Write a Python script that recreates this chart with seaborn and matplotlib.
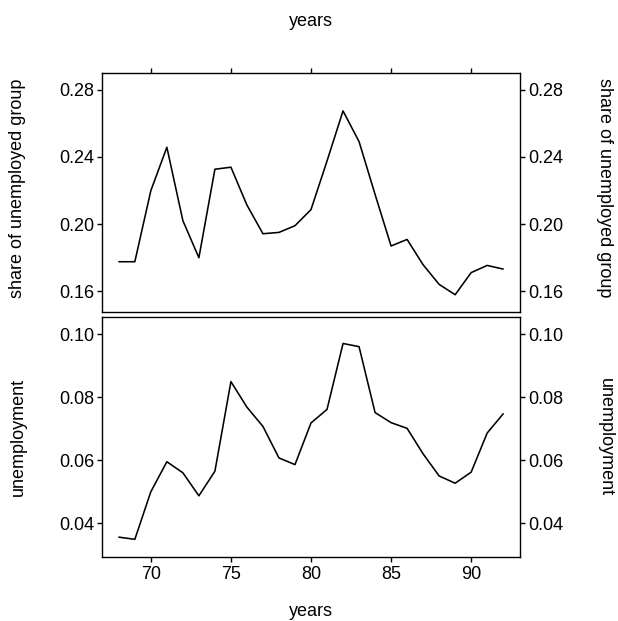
import matplotlib
matplotlib.use("Agg")
import matplotlib.pyplot as plt
import seaborn as sns
import pandas as pd

years = list(range(68, 93))
share_unemployed = [0.1775, 0.1775, 0.2199, 0.2458, 0.2020, 0.1799, 0.2327, 0.2339,
                    0.2113, 0.1942, 0.1950, 0.1990, 0.2086, 0.2376, 0.2675, 0.2492,
                    0.2177, 0.1869, 0.1908, 0.1757, 0.1640, 0.1578, 0.1710, 0.1753,
                    0.1731]
unemployment = [0.0356, 0.0349, 0.0500, 0.0595, 0.0560, 0.0487, 0.0565, 0.0849,
                0.0768, 0.0707, 0.0607, 0.0586, 0.0718, 0.0761, 0.0970, 0.0960,
                0.0751, 0.0719, 0.0701, 0.0620, 0.0550, 0.0527, 0.0562, 0.0686,
                0.0747]
x_ticks = [70, 75, 80, 85, 90]
share_ticks = [0.16, 0.20, 0.24, 0.28]
share_labels = ["0.16", "0.20", "0.24", "0.28"]
unemp_ticks = [0.04, 0.06, 0.08, 0.10]
unemp_labels = ["0.04", "0.06", "0.08", "0.10"]

df = pd.DataFrame({"years": years, "share": share_unemployed, "unemp": unemployment})

sns.set_theme(style="white")
plt.rcParams["font.family"] = ["Liberation Sans", "DejaVu Sans"]
fs = 13

fig = plt.figure(figsize=(6.18, 6.21), dpi=100)
W, H = 618, 621
left, right = 102 / W, 520 / W
ax1 = fig.add_axes([left, 1 - 312 / H, right - left, (312 - 72.7) / H])
ax2 = fig.add_axes([left, 1 - 557 / H, right - left, (557 - 317) / H])

sns.lineplot(data=df, x="years", y="share", ax=ax1, color="black", linewidth=1.15)
sns.lineplot(data=df, x="years", y="unemp", ax=ax2, color="black", linewidth=1.15)

xlim = (66.95, 93.05)
for ax in (ax1, ax2):
    ax.set_xlim(*xlim)
    ax.set_xlabel("")
    ax.set_ylabel("")
    for s in ax.spines.values():
        s.set_visible(True)
        s.set_color("black")
        s.set_linewidth(1.0)
    ax.grid(False)

ax1.set_ylim(0.1475, 0.2903)
ax2.set_ylim(0.0293, 0.1054)

tl = 3.6
ax1.set_xticks(x_ticks)
ax1.tick_params(axis="x", which="both", bottom=False, top=True, labelbottom=False,
                labeltop=False, direction="out", length=tl, width=1, color="black")
ax1.set_yticks(share_ticks)
ax1.set_yticklabels(share_labels)
ax1.tick_params(axis="y", left=True, right=True, labelleft=True, labelright=True,
                direction="out", length=tl, width=1, color="black", labelsize=fs,
                pad=2)

ax2.set_xticks(x_ticks)
ax2.set_xticklabels([str(t) for t in x_ticks])
ax2.tick_params(axis="x", bottom=True, top=False, labelbottom=True, labeltop=False,
                direction="out", length=tl, width=1, color="black", labelsize=fs, pad=3)
ax2.set_yticks(unemp_ticks)
ax2.set_yticklabels(unemp_labels)
ax2.tick_params(axis="y", left=True, right=True, labelleft=True, labelright=True,
                direction="out", length=tl, width=1, color="black", labelsize=fs,
                pad=2)

for ax in (ax1, ax2):
    for lab in ax.get_xticklabels() + ax.get_yticklabels():
        lab.set_color("black")

fig.text(311 / W, 1 - 22 / H, "years", ha="center", va="center", fontsize=fs, color="black")
fig.text(311 / W, 1 - 611 / H, "years", ha="center", va="center", fontsize=fs, color="black")
fig.text(18 / W, 1 - 188 / H, "share of unemployed group", rotation=90, ha="center",
         va="center", fontsize=fs, color="black")
fig.text(18 / W, 1 - 437 / H, "unemployment", rotation=90, ha="center",
         va="center", fontsize=fs, color="black")
fig.text(605 / W, 1 - 188 / H, "share of unemployed group", rotation=270, ha="center",
         va="center", fontsize=fs, color="black")
fig.text(605 / W, 1 - 437 / H, "unemployment", rotation=270, ha="center",
         va="center", fontsize=fs, color="black")

fig.savefig("out.png", dpi=100, facecolor="white")
